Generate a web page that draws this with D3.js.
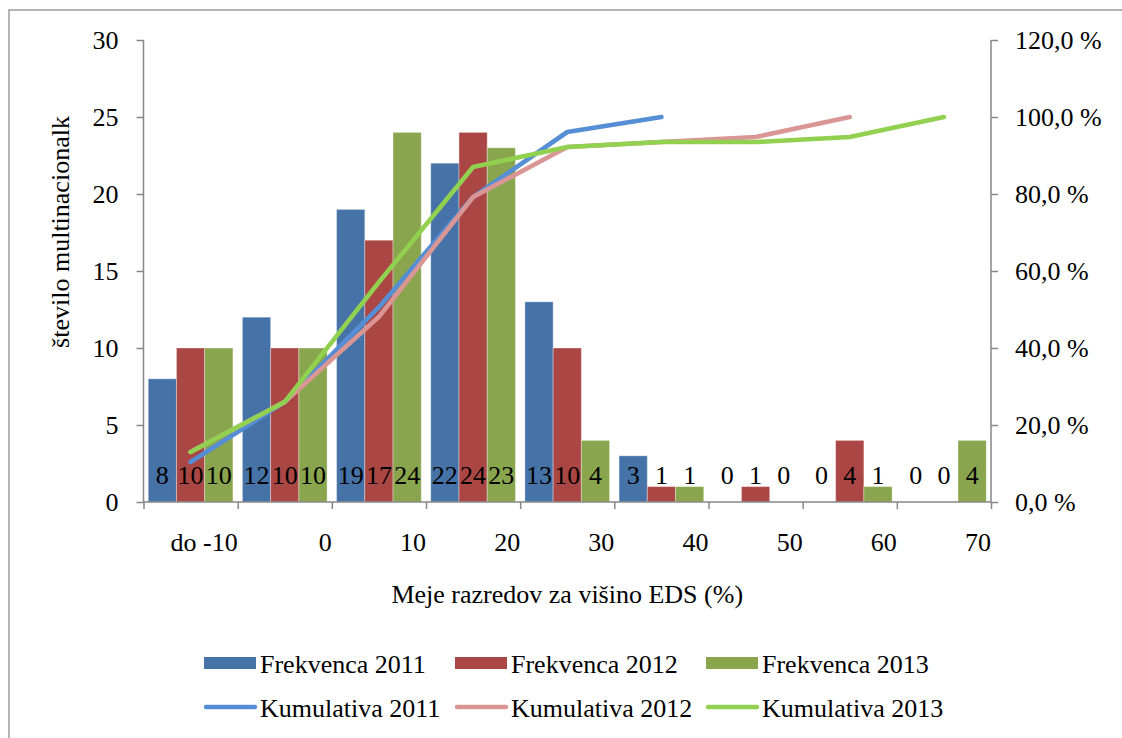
<!DOCTYPE html>
<html>
<head>
<meta charset="utf-8">
<script src="https://cdn.jsdelivr.net/npm/d3@7"></script>
<style>
  html, body { margin: 0; padding: 0; background: #fff; }
  svg { display: block; font-family: "Liberation Serif", "Times New Roman", serif; }
</style>
</head>
<body>
<svg id="chart" width="1122" height="738"></svg>
<script>
// Class limits (x-axis labels) and frequencies per year
const categories = ["do -10", "0", "10", "20", "30", "40", "50", "60", "70"];
const freq2011 = [8, 12, 19, 22, 13, 3, 0, 0, 0];
const freq2012 = [10, 10, 17, 24, 10, 1, 1, 4, 0];
const freq2013 = [10, 10, 24, 23, 4, 1, 0, 1, 4];

// Cumulative shares in percent (lines end where the series reaches 100 %)
const cum2011 = [10.4, 26.0, 50.6, 79.2, 96.1, 100.0];
const cum2012 = [13.0, 26.0, 48.1, 79.2, 92.2, 93.5, 94.8, 100.0];
const cum2013 = [13.0, 26.0, 57.1, 87.0, 92.2, 93.5, 93.5, 94.8, 100.0];

const leftTicks = [0, 5, 10, 15, 20, 25, 30];
const rightTicks = [0, 20, 40, 60, 80, 100, 120];

const barSeries = [
  { name: "Frekvenca 2011", values: freq2011, color: "#4572A7" },
  { name: "Frekvenca 2012", values: freq2012, color: "#AA4643" },
  { name: "Frekvenca 2013", values: freq2013, color: "#89A54E" }
];
const lineSeries = [
  { name: "Kumulativa 2011", values: cum2011, color: "#558ED5" },
  { name: "Kumulativa 2012", values: cum2012, color: "#D99694" },
  { name: "Kumulativa 2013", values: cum2013, color: "#92D050" }
];

const svg = d3.select("#chart");
const axisColor = "#878787";
const fontSize = 26;

// outer frame of the chart area
svg.append("rect")
  .attr("x", 9).attr("y", 10).attr("width", 1130).attr("height", 740)
  .attr("fill", "none").attr("stroke", "#8c8c8c").attr("stroke-width", 1.3);

const plot = { left: 143.5, right: 991, top: 40, bottom: 502 };

const x = d3.scaleBand().domain(d3.range(categories.length))
  .range([plot.left, plot.right]).paddingInner(0).paddingOuter(0);
const xInner = d3.scaleBand().domain(d3.range(barSeries.length))
  .range([0, x.bandwidth()]).paddingOuter(0.168).paddingInner(0);
const yLeft = d3.scaleLinear().domain([0, 30]).range([plot.bottom, plot.top]);
const yRight = d3.scaleLinear().domain([0, 120]).range([plot.bottom, plot.top]);

// bars
const groups = svg.append("g").selectAll("g")
  .data(categories.map((c, i) => i))
  .join("g")
  .attr("transform", i => `translate(${x(i)},0)`);

groups.selectAll("rect")
  .data(i => barSeries.map((s, k) => ({ k, v: s.values[i], color: s.color })))
  .join("rect")
  .attr("x", d => xInner(d.k))
  .attr("width", xInner.bandwidth())
  .attr("y", d => yLeft(d.v))
  .attr("height", d => yLeft(0) - yLeft(d.v))
  .attr("fill", d => d.color)
  .attr("stroke", "rgba(255,255,255,0.35)")
  .attr("stroke-width", 1);

// left axis
const gLeft = svg.append("g").attr("transform", `translate(${plot.left},0)`)
  .call(d3.axisLeft(yLeft).tickValues(leftTicks).tickSize(7).tickPadding(18).tickFormat(d3.format("d")));

// right axis
const pctFmt = d => d.toFixed(1).replace(".", ",") + " %";
const gRight = svg.append("g").attr("transform", `translate(${plot.right},0)`)
  .call(d3.axisRight(yRight).tickValues(rightTicks).tickSize(7).tickPadding(17).tickFormat(pctFmt));

// bottom axis: ticks at class boundaries, labels right-aligned to each boundary
const xEdges = d3.scaleLinear().domain([0, categories.length]).range([plot.left, plot.right]);
const gBottom = svg.append("g").attr("transform", `translate(0,${plot.bottom})`)
  .call(d3.axisBottom(xEdges).tickValues(d3.range(categories.length + 1)).tickSize(7).tickFormat(""));

svg.append("g").selectAll("text")
  .data(categories)
  .join("text")
  .attr("x", (c, i) => xEdges(i + 1))
  .attr("y", 551)
  .attr("text-anchor", "end")
  .attr("font-size", fontSize)
  .attr("fill", "#000")
  .text(c => c);

[gLeft, gRight, gBottom].forEach(g => {
  g.select(".domain").attr("stroke", axisColor).attr("stroke-width", 1.5);
  g.selectAll(".tick line").attr("stroke", axisColor).attr("stroke-width", 1.5);
  g.selectAll(".tick text").attr("font-size", fontSize).attr("fill", "#000")
    .attr("font-family", "'Liberation Serif', 'Times New Roman', serif");
});
gBottom.select(".domain").attr("d", `M${plot.left},0H${plot.right}`);
gLeft.select(".domain").attr("d", `M0,${plot.top}V${plot.bottom}`);
gRight.select(".domain").attr("d", `M0,${plot.top}V${plot.bottom}`);
// left axis ticks point outwards from the line, with the outer tick drawn at the top
gLeft.selectAll(".tick line").attr("x2", -7);

// cumulative lines
const line = d3.line()
  .x((v, i) => x(i) + x.bandwidth() / 2)
  .y(v => yRight(v));
svg.append("g").selectAll("path")
  .data(lineSeries)
  .join("path")
  .attr("d", s => line(s.values))
  .attr("fill", "none")
  .attr("stroke", s => s.color)
  .attr("stroke-width", 4.6)
  .attr("stroke-linecap", "round")
  .attr("stroke-linejoin", "round");

// value labels near the base of each bar
groups.selectAll("text.val")
  .data(i => barSeries.map((s, k) => ({ k, v: s.values[i] })))
  .join("text")
  .attr("class", "val")
  .attr("x", d => xInner(d.k) + xInner.bandwidth() / 2)
  .attr("y", 484)
  .attr("text-anchor", "middle")
  .attr("font-size", fontSize)
  .attr("fill", "#000")
  .text(d => d.v);

// axis titles
svg.append("text")
  .attr("transform", "translate(69,232) rotate(-90)")
  .attr("text-anchor", "middle")
  .attr("font-size", fontSize)
  .attr("fill", "#000")
  .text("število multinacionalk");

svg.append("text")
  .attr("x", (plot.left + plot.right) / 2)
  .attr("y", 603)
  .attr("text-anchor", "middle")
  .attr("font-size", fontSize)
  .attr("fill", "#000")
  .text("Meje razredov za višino EDS (%)");

// legend
const legendCols = [204, 455, 706];
const legend = svg.append("g");
barSeries.forEach((s, k) => {
  const g = legend.append("g").attr("transform", `translate(${legendCols[k]},0)`);
  g.append("rect").attr("x", 0).attr("y", 657).attr("width", 52).attr("height", 12).attr("fill", s.color);
  g.append("text").attr("x", 56).attr("y", 673).attr("font-size", fontSize).attr("fill", "#000").text(s.name);
});
lineSeries.forEach((s, k) => {
  const g = legend.append("g").attr("transform", `translate(${legendCols[k]},0)`);
  g.append("line").attr("x1", 2).attr("x2", 51).attr("y1", 707).attr("y2", 707)
    .attr("stroke", s.color).attr("stroke-width", 4.4).attr("stroke-linecap", "round");
  g.append("text").attr("x", 56).attr("y", 717).attr("font-size", fontSize).attr("fill", "#000").text(s.name);
});
</script>
</body>
</html>
